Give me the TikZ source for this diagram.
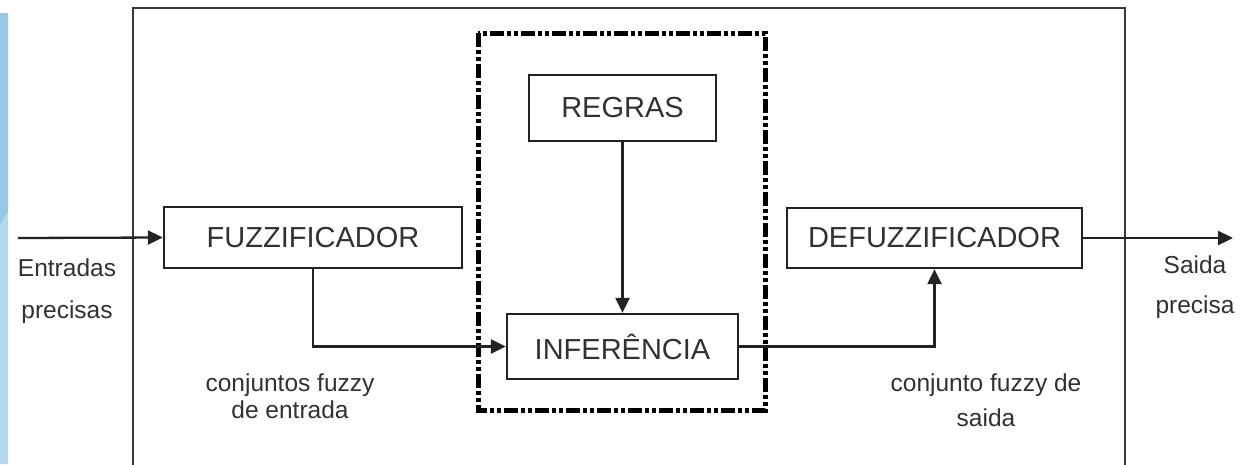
\documentclass[tikz,border=0pt]{standalone}
\usepackage{fontspec}
\setmainfont{Liberation Sans}
\usetikzlibrary{arrows.meta}
\definecolor{bluetop}{RGB}{150,200,230}
\definecolor{bluebot}{RGB}{180,216,236}
\definecolor{ink}{RGB}{35,35,35}
\definecolor{txt}{RGB}{50,50,50}
\begin{document}
\begin{tikzpicture}[x=1pt,y=-1pt,
  blk/.style={draw=ink, line width=2.3pt, minimum width=#1, inner sep=0pt,
    font=\fontsize{29}{32}\selectfont, text=txt},
  lbl/.style={font=\fontsize{24.5}{#1}\selectfont, text=txt, align=center, inner sep=0pt},
  arr/.style={draw=ink, line width=2.3pt, -{Triangle[length=15pt,width=14pt]}},
  wire/.style={draw=ink, line width=2.3pt}]
\useasboundingbox (0,0) rectangle (1241,464);
\fill[white] (0,0) rectangle (1241,464);
% slide strip
\fill[bluetop] (0,13) -- (8,13) -- (8,212) -- (0,226) -- cycle;
\fill[bluebot] (0,226) -- (8,212) -- (8,464) -- (0,464) -- cycle;
% outer frame (bottom edge cut off)
\draw[ink!90, line width=2.6pt] (133,470) -- (133,8) -- (1125,8) -- (1125,470);
% dash-dot group
\draw[black, line width=5pt, dash pattern=on 14pt off 3pt on 4pt off 3pt on 4pt off 3pt]
  (478,33) rectangle (765,410);
% blocks
\node[blk=298pt, minimum height=61pt] (fuzz) at (313,237.5) {FUZZIFICADOR};
\node[blk=187pt, minimum height=66pt] (regras) at (622.5,108) {REGRAS};
\node[blk=231pt, minimum height=65pt] (inf) at (622.5,346.5) {INFERÊNCIA};
\node[blk=295pt, minimum height=60pt] (defuzz) at (934.5,238) {DEFUZZIFICADOR};
% connectors
\coordinate (in) at (18,238);
\coordinate (out) at (1233,238);
\draw[arr] (in) -- (fuzz.west);
\draw[arr] (fuzz.south) |- (inf.west);
\draw[arr] (regras.south) -- (inf.north);
\draw[arr] (inf.east) -| (defuzz.south);
\draw[arr] (defuzz.east) -- (out);
% labels
\node[lbl=42pt] (lin) at (67,291) {Entradas\\precisas};
\node[lbl=40pt] (lout) at (1195,287) {Saida\\precisa};
\node[lbl=27pt] (lce) at (290,396) {conjuntos fuzzy\\de entrada};
\node[lbl=35pt] (lcs) at (986,400) {conjunto fuzzy de\\saida};
\end{tikzpicture}
\end{document}
